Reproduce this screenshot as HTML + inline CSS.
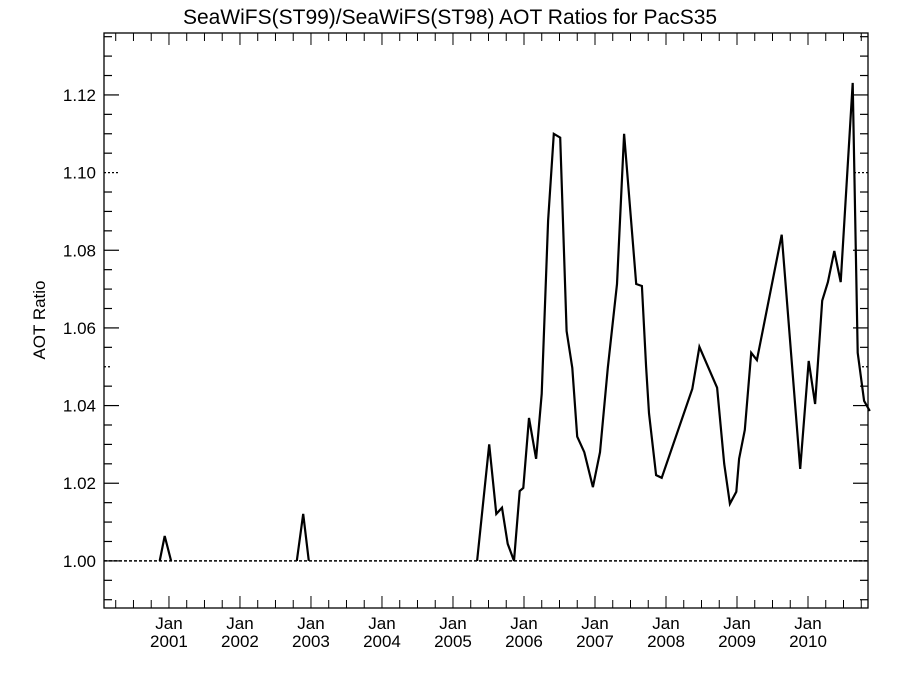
<!DOCTYPE html>
<html><head><meta charset="utf-8"><style>
html,body{margin:0;padding:0;background:#fff}
svg{display:block;font-family:"Liberation Sans",Arial,sans-serif}
</style></head><body>
<svg id="chart" width="900" height="675" viewBox="0 0 900 675" xmlns="http://www.w3.org/2000/svg">
<text x="450" y="24" text-anchor="middle" font-size="21">SeaWiFS(ST99)/SeaWiFS(ST98)  AOT Ratios for PacS35</text>
<text transform="translate(45,320) rotate(-90)" text-anchor="middle" font-size="17">AOT Ratio</text>
<g id="axes"></g>
<g id="series"></g>
</svg>
<script>
// data (decimal years, AOT ratio); separate segments where data is present
const seg1T=[2000.87,2000.94,2001.03];
const seg1V=[1.000,1.0064,1.000];
const seg2T=[2002.80,2002.89,2002.97];
const seg2V=[1.000,1.0121,1.000];
const seg3T=[2005.34,2005.51,2005.61,2005.69,2005.77,2005.86,2005.94,2005.99,2006.07,2006.17,2006.25,2006.34,2006.42,2006.51,2006.60,2006.68,2006.75,2006.85,2006.97,2007.07,2007.18,2007.31,2007.41,2007.58,2007.66,2007.72,2007.76,2007.86,2007.94,2008.37,2008.47,2008.72,2008.82,2008.90,2008.99,2009.03,2009.11,2009.20,2009.28,2009.63,2009.89,2010.01,2010.10,2010.20,2010.28,2010.37,2010.46,2010.63,2010.70,2010.79,2010.87];
const seg3V=[1.000,1.030,1.0121,1.0137,1.0044,1.000,1.018,1.0188,1.0368,1.0263,1.043,1.0876,1.110,1.109,1.0592,1.0497,1.032,1.028,1.019,1.028,1.0497,1.0713,1.110,1.0713,1.0708,1.050,1.038,1.0221,1.0214,1.0443,1.0551,1.0446,1.025,1.0147,1.0178,1.0263,1.0337,1.0536,1.0517,1.084,1.0237,1.0515,1.0404,1.067,1.0718,1.0798,1.0718,1.1231,1.0536,1.0412,1.0386];
const yTicks=[1.00,1.02,1.04,1.06,1.08,1.10,1.12];
const yTickLabels=["1.00","1.02","1.04","1.06","1.08","1.10","1.12"];
const xYears=[2001,2002,2003,2004,2005,2006,2007,2008,2009,2010];

const L=104,R=868,T=33,B=608;
const X0=2000.085,X1=2010.845,Y0=0.98787,Y1=1.13595;
const sx=t=>L+(t-X0)/(X1-X0)*(R-L);
const sy=v=>B-(v-Y0)/(Y1-Y0)*(B-T);
const NS="http://www.w3.org/2000/svg";
const axes=document.getElementById('axes'),series=document.getElementById('series');
function mk(tag,attrs,parent){const e=document.createElementNS(NS,tag);for(const k in attrs)e.setAttribute(k,attrs[k]);parent.appendChild(e);return e;}

let frame=mk('rect',{x:L,y:T,width:R-L,height:B-T,fill:'none',stroke:'#000','stroke-width':1.3},axes);



// y minor ticks every 0.005
for(let i=0;;i++){const v=0.99+i*0.005;if(v>Y1)break;const y=sy(v);
 const major=yTicks.some(t=>Math.abs(t-v)<1e-6);const len=major?15:8;
 const dotted=Math.abs(v-1.10)<1e-6||Math.abs(v-1.05)<1e-6;
 const a={stroke:'#000','stroke-width':1.2};if(dotted)a['stroke-dasharray']='2,2';
 let t1=mk('line',Object.assign({x1:L,y1:y,x2:L+len,y2:y},a),axes);
 
 
 let t2=mk('line',Object.assign({x1:R,y1:y,x2:R-len,y2:y},a),axes);
 
 
}
yTicks.forEach((v,i)=>{let t=mk('text',{x:L-8,y:sy(v)+6,'text-anchor':'end','font-size':17},axes);t.textContent=yTickLabels[i];
 
 });

// x ticks quarterly
for(let i=0;;i++){const t=2000.25+i*0.25;if(t>X1)break;const x=sx(t);
 const major=Math.abs(t-Math.round(t))<1e-6;const len=major?12:8;
 let a=mk('line',{x1:x,y1:B,x2:x,y2:B-len,stroke:'#000','stroke-width':1},axes);
 
 
 let b=mk('line',{x1:x,y1:T,x2:x,y2:T+len,stroke:'#000','stroke-width':1},axes);
 
 
}
xYears.forEach(yr=>{const x=sx(yr);
 let t=mk('text',{x:x,y:629,'text-anchor':'middle','font-size':17},axes);t.textContent='Jan';
 
 
 let t2=mk('text',{x:x,y:647,'text-anchor':'middle','font-size':17},axes);t2.textContent=String(yr);
 
 
});

let ref=mk('line',{x1:L,y1:sy(1),x2:R,y2:sy(1),stroke:'#000','stroke-width':1.5,'stroke-dasharray':'3,2'},series);



[[seg1T,seg1V],[seg2T,seg2V],[seg3T,seg3V]].forEach(([ts,vs])=>{
 const pts=ts.map((t,i)=>sx(t).toFixed(1)+','+sy(vs[i]).toFixed(1)).join(' ');
 let p=mk('polyline',{points:pts,fill:'none',stroke:'#000','stroke-width':2.2,'stroke-linejoin':'miter'},series);
 
 
});
</script>
</body></html>
